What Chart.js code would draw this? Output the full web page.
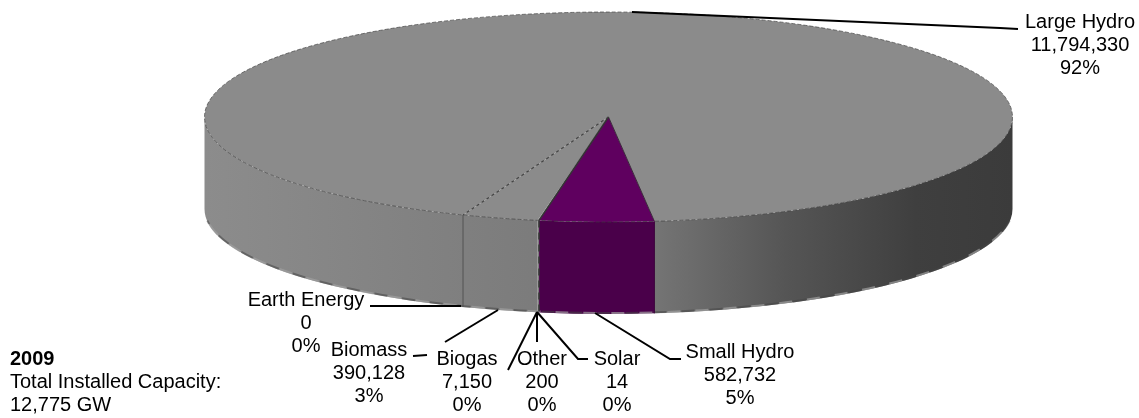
<!DOCTYPE html>
<html>
<head>
<meta charset="utf-8">
<script src="https://cdn.jsdelivr.net/npm/chart.js@4"></script>
<style>
    html, body { margin: 0; padding: 0; background: #fff; }
    canvas { display: block; }
</style>
</head>
<body>
<canvas id="capacity" width="1139" height="418"></canvas>
<script>
// clockwise from the big slice
const categories = ['Large Hydro', 'Small Hydro', 'Solar', 'Other', 'Biogas', 'Biomass', 'Earth Energy'];
const capacity = [11794330, 582732, 14, 200, 7150, 390128, 0];
const noteLines = ['2009', 'Total Installed Capacity:', '12,775 GW'];

const topColors = ['#8b8b8b', '#5f005f', '#8b8b8b', '#8b8b8b', '#8b8b8b', '#8b8b8b', '#8b8b8b'];
const purpleWall = '#4a004a';

// fake 3d: the circle chart.js gives us is squashed and moved here
const pieX = 608.5;
const pieY = 117;
const pieRadius = 404;
const tilt = 105 / 404;
const depth = 92;

// label centre x, then y of the first line
const labelSpots = {
    'Large Hydro': [1080, 22],
    'Small Hydro': [740, 352],
    'Solar': [617, 359],
    'Other': [542, 359],
    'Biogas': [467, 359],
    'Biomass': [369, 350],
    'Earth Energy': [306, 300]
};

const leaders = [
    [[632, 12], [1000, 28], [1018, 29]],
    [[595, 313], [670, 359], [681, 359]],
    [[537, 312], [578, 359], [588, 359]],
    [[537, 312], [537, 342]],
    [[537, 312], [508, 370]],
    [[445, 342], [498, 310]],
    [[413, 356], [427, 355]],
    [[370, 306], [461, 306]]
];

function wallGradient(ctx) {
    const g = ctx.createLinearGradient(pieX - pieRadius, 0, pieX + pieRadius, 0);
    g.addColorStop(0, '#8c8c8c');
    g.addColorStop(0.4, '#7c7c7c');
    g.addColorStop(0.56, '#747474');
    g.addColorStop(0.72, '#555555');
    g.addColorStop(0.88, '#3f3f3f');
    g.addColorStop(1, '#3b3b3b');
    return g;
}

function drawWall(ctx, from, to, fill) {
    const ry = pieRadius * tilt;
    ctx.beginPath();
    ctx.ellipse(pieX, pieY, pieRadius, ry, 0, from, to);
    ctx.ellipse(pieX, pieY + depth, pieRadius, ry, 0, to, from, true);
    ctx.closePath();
    ctx.fillStyle = fill;
    ctx.fill();
}

function edgePoint(angle) {
    return [pieX + pieRadius * Math.cos(angle), pieY + pieRadius * tilt * Math.sin(angle)];
}

function strokeLine(ctx, pts, color, width, dash) {
    ctx.beginPath();
    ctx.moveTo(pts[0][0], pts[0][1]);
    for (let i = 1; i < pts.length; i++) {
        ctx.lineTo(pts[i][0], pts[i][1]);
    }
    ctx.strokeStyle = color;
    ctx.lineWidth = width;
    ctx.setLineDash(dash || []);
    ctx.stroke();
    ctx.setLineDash([]);
}

const fakePie3d = {
    id: 'fakePie3d',
    beforeDatasetsDraw(chart) {
        const ctx = chart.ctx;
        const arcs = chart.getDatasetMeta(0).data;
        const ry = pieRadius * tilt;

        // side of the pie, only the part facing us
        arcs.forEach(function (arc, i) {
            for (let k = -1; k <= 1; k++) {
                const from = Math.max(arc.startAngle, k * 2 * Math.PI);
                const to = Math.min(arc.endAngle, k * 2 * Math.PI + Math.PI);
                if (to > from) {
                    drawWall(ctx, from, to, i === 1 ? purpleWall : wallGradient(ctx));
                }
            }
        });

        // rough lower rim, the original has a blotchy edge
        ctx.save();
        ctx.lineWidth = 2;
        ctx.setLineDash([13, 15]);
        ctx.strokeStyle = 'rgba(70,70,70,0.55)';
        ctx.beginPath();
        ctx.ellipse(pieX, pieY + depth - 1, pieRadius, ry, 0, 0.12, Math.PI - 0.12);
        ctx.stroke();
        ctx.lineDashOffset = 14;
        ctx.strokeStyle = 'rgba(160,160,160,0.7)';
        ctx.beginPath();
        ctx.ellipse(pieX, pieY + depth - 1, pieRadius, ry, 0, 0.12, Math.PI - 0.12);
        ctx.stroke();
        ctx.restore();

        ctx.save();
        ctx.translate(pieX, pieY);
        ctx.scale(1, tilt);
        ctx.translate(-arcs[0].x, -arcs[0].y);
    },
    afterDatasetsDraw(chart) {
        const ctx = chart.ctx;
        const arcs = chart.getDatasetMeta(0).data;
        ctx.restore();

        // rim of the top face
        ctx.beginPath();
        ctx.ellipse(pieX, pieY, pieRadius, pieRadius * tilt, 0, 0, 2 * Math.PI);
        ctx.strokeStyle = 'rgba(60,60,60,0.65)';
        ctx.lineWidth = 1;
        ctx.setLineDash([4, 2]);
        ctx.stroke();
        ctx.setLineDash([]);

        const small = arcs[1];
        const biomass = arcs[5];
        const middle = [pieX, pieY];
        const rightEdge = edgePoint(small.startAngle);
        const leftEdge = edgePoint(small.endAngle);
        const farEdge = edgePoint(biomass.endAngle);

        strokeLine(ctx, [middle, rightEdge], '#3a2a3a', 1);
        strokeLine(ctx, [middle, leftEdge], '#333333', 1.5);
        strokeLine(ctx, [middle, farEdge], '#444444', 1.2, [3, 3]);

        strokeLine(ctx, [farEdge, [farEdge[0], farEdge[1] + depth]], '#505050', 1);
        strokeLine(ctx, [leftEdge, [leftEdge[0], leftEdge[1] + depth]], '#333333', 1.5, [7, 5]);
        strokeLine(ctx, [rightEdge, [rightEdge[0], rightEdge[1] + depth]], '#3a003a', 1);
    },
    afterDraw(chart) {
        const ctx = chart.ctx;
        const total = capacity.reduce(function (a, b) { return a + b; }, 0);

        leaders.forEach(function (pts) {
            strokeLine(ctx, pts, '#000000', 2);
        });

        ctx.fillStyle = '#000000';
        ctx.font = "20px 'Liberation Sans', Arial, sans-serif";
        ctx.textAlign = 'center';
        ctx.textBaseline = 'middle';
        categories.forEach(function (name, i) {
            const spot = labelSpots[name];
            ctx.fillText(name, spot[0], spot[1]);
            ctx.fillText(capacity[i].toLocaleString('en-US'), spot[0], spot[1] + 23);
            ctx.fillText(Math.round(capacity[i] / total * 100) + '%', spot[0], spot[1] + 46);
        });

        ctx.textAlign = 'left';
        noteLines.forEach(function (line, i) {
            ctx.font = (i === 0 ? 'bold ' : '') + "20px 'Liberation Sans', Arial, sans-serif";
            ctx.fillText(line, 10, 359 + i * 23);
        });
    }
};

new Chart(document.getElementById('capacity'), {
    type: 'pie',
    data: {
        labels: categories,
        datasets: [{
            data: capacity,
            backgroundColor: topColors,
            borderWidth: 0,
            clip: false
        }]
    },
    options: {
        responsive: false,
        animation: false,
        radius: pieRadius,
        rotation: 201.1,
        plugins: {
            legend: { display: false },
            tooltip: { enabled: false }
        }
    },
    plugins: [fakePie3d]
});
</script>
</body>
</html>
